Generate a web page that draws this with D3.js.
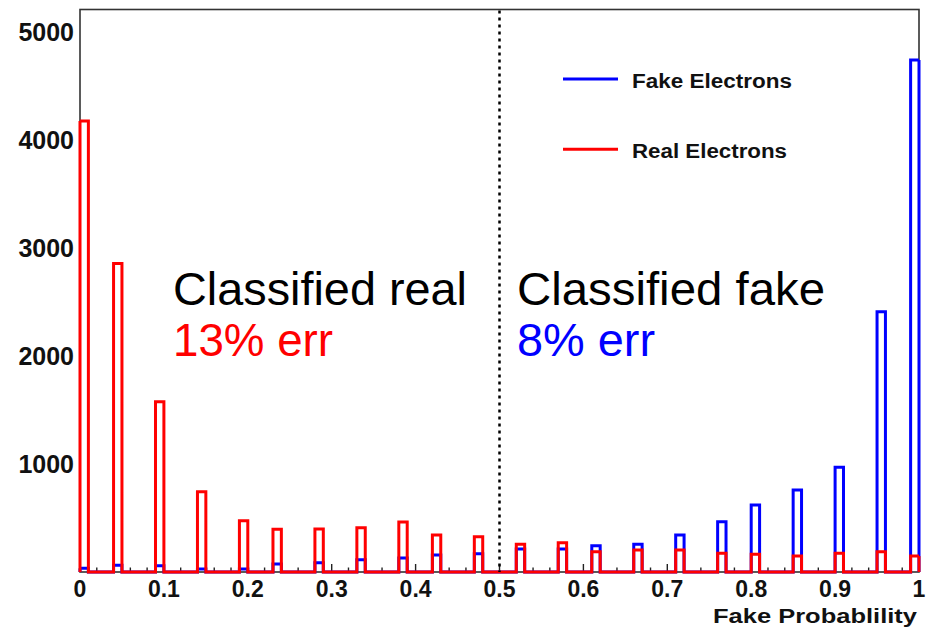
<!DOCTYPE html>
<html>
<head>
<meta charset="utf-8">
<script src="https://cdn.jsdelivr.net/npm/d3@7"></script>
<style>
  html, body { margin: 0; padding: 0; background: #fff; }
  svg { display: block; }
</style>
</head>
<body>
<svg id="chart" width="932" height="629"></svg>
<script>
// ---- data ----
const binWidth = 0.01;
const binStarts = [0.00,0.04,0.09,0.14,0.19,0.23,0.28,0.33,0.38,0.42,0.47,0.52,0.57,0.61,0.66,0.71,0.76,0.80,0.85,0.90,0.95,0.99];
const realElectrons = [4180,2860,1578,744,475,396,398,411,463,343,327,257,272,188,204,204,173,164,148,173,188,148];
const fakeElectrons = [34,62,58,28,28,74,86,114,130,158,170,213,213,244,257,343,466,621,760,970,2412,4745];
const yTicks = [1000,2000,3000,4000,5000];
const xTicks = [0,0.1,0.2,0.3,0.4,0.5,0.6,0.7,0.8,0.9,1];
const xTickLabels = ["0","0.1","0.2","0.3","0.4","0.5","0.6","0.7","0.8","0.9","1"];
const seriesNames = ["Fake Electrons","Real Electrons"];
const xTitle = "Fake Probablility";

// ---- layout ----
const svg = d3.select("#chart");
const L = 80, R = 919, T = 9.5, B = 572;
const x = d3.scaleLinear().domain([0,1]).range([L,R]);
const y = d3.scaleLinear().domain([0,5213]).range([B,T]);

// frame
svg.append("rect").attr("x",L).attr("y",T).attr("width",R-L).attr("height",B-T)
  .attr("fill","none").attr("stroke","#333").attr("stroke-width",1.6);

// x ticks (major & minor) inside the frame
const minor = d3.range(0,1.0001,0.02);
svg.append("g").selectAll("line").data(minor).join("line")
  .attr("x1",d=>x(d)).attr("x2",d=>x(d))
  .attr("y1",B).attr("y2",(d)=> (Math.abs(d*10-Math.round(d*10))<1e-6) ? B-8 : B-4.5)
  .attr("stroke","#222").attr("stroke-width",1.4);

// histogram step paths
function buildSteps(values){
  const nb = Math.round(1/binWidth);
  const arr = new Array(nb).fill(0);
  binStarts.forEach((b,i)=>{ arr[Math.round(b/binWidth)] = values[i]; });
  const pts = arr.map((v,i)=>[i*binWidth, v]);
  pts.push([1, arr[nb-1]]);
  return [[0,0]].concat(pts).concat([[1,0]]);
}
const line = d3.line().x(d=>x(d[0])).y(d=>y(d[1])).curve(d3.curveStepAfter);
const lineEnds = d3.line().x(d=>x(d[0])).y(d=>y(d[1]));

function drawHist(values, color){
  const steps = buildSteps(values);
  const inner = steps.slice(1, steps.length-1);
  svg.append("path").attr("d", line(inner))
    .attr("fill","none").attr("stroke",color).attr("stroke-width",3)
    .attr("stroke-linejoin","miter");
  svg.append("path").attr("d", lineEnds([steps[0],inner[0]]))
    .attr("fill","none").attr("stroke",color).attr("stroke-width",3);
  svg.append("path").attr("d", lineEnds([inner[inner.length-1],steps[steps.length-1]]))
    .attr("fill","none").attr("stroke",color).attr("stroke-width",3);
}
drawHist(fakeElectrons, "#0000ff");
drawHist(realElectrons, "#ff0000");

// dotted separator at 0.5
svg.append("line").attr("x1",x(0.5)).attr("x2",x(0.5)).attr("y1",T+1).attr("y2",B)
  .attr("stroke","#000").attr("stroke-width",2.5).attr("stroke-dasharray","3,4");

// y tick labels
svg.append("g").selectAll("text").data(yTicks).join("text")
  .attr("x",74).attr("y",d=>y(d)+9)
  .attr("text-anchor","end")
  .attr("font-family","Liberation Sans, Arial, sans-serif")
  .attr("font-weight","bold").attr("font-size",25)
  .attr("fill","#111")
  .text(d=>d);

// x tick labels
svg.append("g").selectAll("text").data(xTicks).join("text")
  .attr("x",d=>x(d)).attr("y",597)
  .attr("text-anchor","middle")
  .attr("font-family","Liberation Sans, Arial, sans-serif")
  .attr("font-weight","bold").attr("font-size",23)
  .attr("fill","#111")
  .text((d,i)=>xTickLabels[i]);

// x title
svg.append("text").attr("x",917).attr("y",623).attr("text-anchor","end")
  .attr("font-family","Liberation Sans, Arial, sans-serif")
  .attr("font-weight","bold").attr("font-size",21)
  .attr("textLength",204).attr("lengthAdjust","spacingAndGlyphs")
  .attr("fill","#111").text(xTitle);

// legend
const legColors = ["#0000ff","#ff0000"];
const legY = [79, 149.3];
seriesNames.forEach((name,i)=>{
  svg.append("line").attr("x1",563).attr("x2",618).attr("y1",legY[i]).attr("y2",legY[i])
    .attr("stroke",legColors[i]).attr("stroke-width",3);
  svg.append("text").attr("x",632).attr("y",legY[i]+8.5)
    .attr("font-family","Liberation Sans, Arial, sans-serif")
    .attr("font-weight","bold").attr("font-size",20)
    .attr("textLength", i===0 ? 160 : 155).attr("lengthAdjust","spacingAndGlyphs")
    .attr("fill","#111").text(name);
});

// annotations
const ann = [
  {t:"Classified real", x:173, y:305, c:"#000", w:294},
  {t:"13% err", x:173, y:356, c:"#ff0000", w:160},
  {t:"Classified fake", x:517, y:305, c:"#000", w:308},
  {t:"8% err", x:517, y:356, c:"#0000ff", w:138}
];
ann.forEach(a=>{
  svg.append("text").attr("x",a.x).attr("y",a.y)
    .attr("font-family","Liberation Sans, Arial, sans-serif")
    .attr("font-size",46).attr("fill",a.c)
    .attr("textLength",a.w).attr("lengthAdjust","spacingAndGlyphs")
    .text(a.t);
});
</script>
</body>
</html>
